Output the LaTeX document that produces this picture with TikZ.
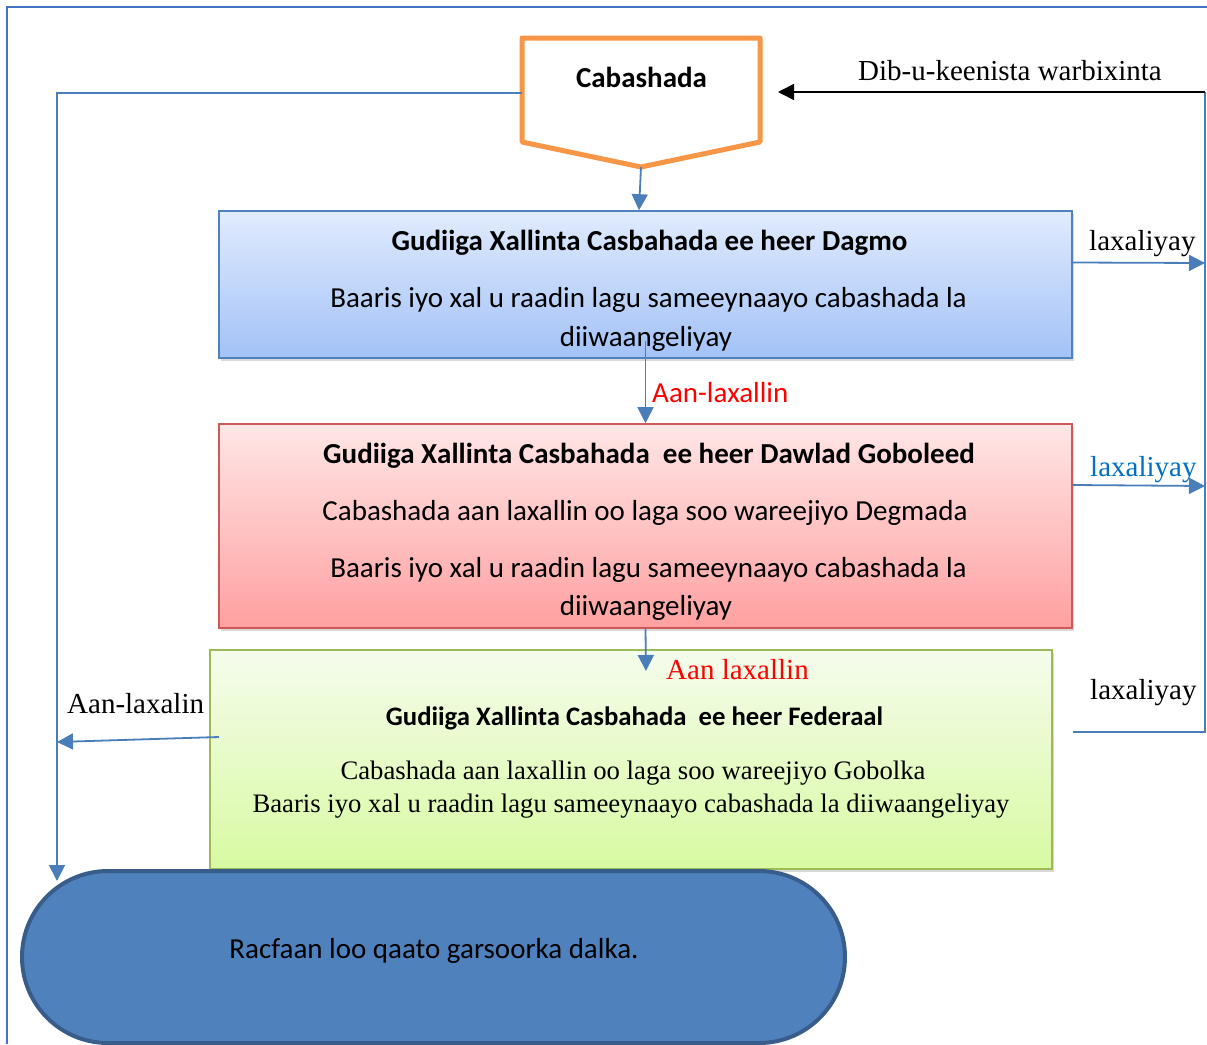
\documentclass[tikz,border=0pt]{standalone}
\usepackage{fontspec}
\setmainfont{Liberation Serif}
\setsansfont{Carlito}
\usetikzlibrary{arrows.meta,shadows,shapes.misc}
\definecolor{framec}{RGB}{68,114,196}
\definecolor{linkc}{RGB}{74,126,187}
\definecolor{orangec}{RGB}{247,150,70}
\definecolor{bluebd}{RGB}{79,129,189}
\definecolor{bluetop}{RGB}{224,235,253}
\definecolor{bluebot}{RGB}{163,194,247}
\definecolor{redbd}{RGB}{205,90,88}
\definecolor{redtop}{RGB}{255,230,230}
\definecolor{redbot}{RGB}{255,160,160}
\definecolor{greenbd}{RGB}{155,187,89}
\definecolor{greentop}{RGB}{245,252,236}
\definecolor{greenbot}{RGB}{216,250,162}
\definecolor{ovalfill}{RGB}{79,129,189}
\definecolor{ovalbd}{RGB}{56,93,138}
\definecolor{redtxt}{RGB}{255,0,0}
\definecolor{bluetxt}{RGB}{0,112,192}
\tikzset{
  flow/.style={draw=linkc, line width=1.8pt},
  arr/.style={-{Triangle[width=16pt,length=16pt]}},
  box/.style={rectangle, line width=1.6pt, inner sep=0pt,
    drop shadow={shadow xshift=2pt, shadow yshift=-3pt, opacity=0.3}},
  oval/.style={rounded rectangle, fill=ovalfill, draw=ovalbd, line width=4pt,
    minimum width=823pt, minimum height=172pt, inner sep=0pt},
  ttl/.style={anchor=base, inner sep=0pt, font=\sffamily\bfseries\fontsize{29}{35}\selectfont},
  ttlsm/.style={ttl, font=\sffamily\bfseries\fontsize{26.7}{32}\selectfont},
  txt/.style={anchor=base, inner sep=0pt, font=\sffamily\fontsize{29}{35}\selectfont},
  txtsm/.style={anchor=base, inner sep=0pt, font=\fontsize{26.7}{32}\selectfont},
  lbl/.style={anchor=base west, inner sep=0pt, font=\fontsize{29}{35}\selectfont},
  lblsf/.style={lbl, font=\sffamily\fontsize{29}{35}\selectfont}
}
\begin{document}
\begin{tikzpicture}[x=1pt,y=-1pt]
  \useasboundingbox (0,0) rectangle (1207,1044);
  \draw[framec, line width=1.6pt] (7,1044) -- (7,7) -- (1207,7);
  \draw[orangec, line width=5pt, line join=round]
    (522,38) -- (760,38) -- (760,142) -- (641,167) -- (522,142) -- cycle;
  \coordinate (cabtip) at (641,167);
  \coordinate (cableft) at (522,93);
  \coordinate (cabright) at (778,92);
  \node[ttl] (cab) at (641.5,87) {Cabashada};
  \node[box, draw=bluebd, top color=bluetop, bottom color=bluebot,
    minimum width=853pt, minimum height=147pt] (dagmo) at (645.5,284.5) {};
  \node[ttl] (dagmoT) at (649.5,250) {Gudiiga Xallinta Casbahada ee heer Dagmo};
  \node[txt] (dagmoA) at (648.5,307) {Baaris iyo xal u raadin lagu sameeynaayo cabashada la};
  \node[txt] (dagmoB) at (646,346) {diiwaangeliyay};
  \node[box, draw=redbd, top color=redtop, bottom color=redbot,
    minimum width=853pt, minimum height=204pt] (gobol) at (645.5,526) {};
  \node[ttl] (gobolT) at (649,463) {Gudiiga Xallinta Casbahada\ \ ee heer Dawlad Goboleed};
  \node[txt] (gobolA) at (645,520) {Cabashada aan laxallin oo laga soo wareejiyo Degmada};
  \node[txt] (gobolB) at (648.5,577) {Baaris iyo xal u raadin lagu sameeynaayo cabashada la};
  \node[txt] (gobolC) at (646,615) {diiwaangeliyay};
  \node[box, draw=greenbd, top color=greentop, bottom color=greenbot,
    minimum width=842pt, minimum height=219pt] (federal) at (631,759.5) {};
  \node[ttlsm] (federalT) at (634.5,725) {Gudiiga Xallinta Casbahada\ \ ee heer Federaal};
  \node[txtsm] (federalA) at (633,779) {Cabashada aan laxallin oo laga soo wareejiyo Gobolka};
  \node[txtsm] (federalB) at (631,812) {Baaris iyo xal u raadin lagu sameeynaayo cabashada la diiwaangeliyay};
  \node[oval] (racfaan) at (433.5,957) {};
  \node[txt] (racfaanT) at (434,958) {Racfaan loo qaato garsoorka dalka.};
  \coordinate (lefttop) at (57,93);
  \coordinate (leftbot) at (57,881);
  \coordinate (fedleft) at (219,737);
  \coordinate (leftmid) at (57,742);
  \coordinate (aan2) at (646,671);
  \coordinate (rtop) at (1205,92);
  \coordinate (rbot) at (1205,732);
  \coordinate (fedright) at (1073,732);
  \coordinate (r1) at (1205,263);
  \coordinate (r2) at (1205,486);
  \draw[flow, arr] (cabtip) -- ([xshift=-2pt]dagmo.north -| cabtip);
  \draw[flow, arr] ([yshift=18pt]dagmo.south) -- (gobol.north);
  \draw[flow, arr] (gobol.south) -- (aan2);
  \draw[flow, arr] (cableft) -- (lefttop) -- (leftbot);
  \draw[flow, arr] (fedleft) -- (leftmid);
  \draw[flow] (fedright) -- (rbot) -- (rtop);
  \draw[black, line width=1.8pt, arr] (rtop) -- (cabright);
  \draw[flow, arr] ([yshift=22pt]dagmo.east) -- (r1);
  \draw[flow, arr] ([yshift=41pt]gobol.east) -- (r2);
  \node[lbl] (dibu) at (858,80) {Dib-u-keenista warbixinta};
  \node[lbl] (lax1) at (1089,250) {laxaliyay};
  \node[lbl, bluetxt] (lax2) at (1090,476) {laxaliyay};
  \node[lbl] (lax3) at (1090,699) {laxaliyay};
  \node[lblsf, redtxt] (aan1T) at (652,402) {Aan-laxallin};
  \node[lbl, redtxt] (aan2T) at (666,679) {Aan laxallin};
  \node[lbl] (aan3T) at (67,713) {Aan-laxalin};
\end{tikzpicture}
\end{document}
